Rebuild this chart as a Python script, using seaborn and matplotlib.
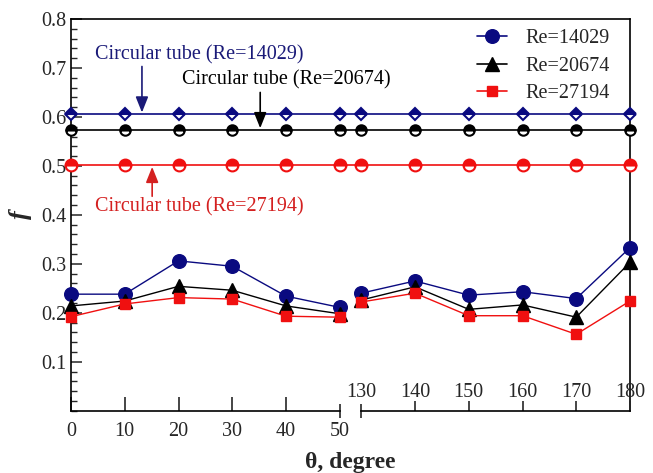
import matplotlib
matplotlib.use("Agg")
import matplotlib.pyplot as plt
import numpy as np
import pandas as pd
import seaborn as sns
from matplotlib.lines import Line2D
from matplotlib.ticker import MultipleLocator, FixedLocator

# Friction factor versus twist angle
theta = [0, 10, 20, 30, 40, 50, 130, 140, 150, 160, 170, 180]
f_14029 = [0.238, 0.238, 0.306, 0.295, 0.234, 0.211, 0.240, 0.265, 0.236, 0.243, 0.229, 0.333]
f_20674 = [0.214, 0.224, 0.254, 0.246, 0.214, 0.198, 0.226, 0.253, 0.207, 0.216, 0.191, 0.303]
f_27194 = [0.192, 0.218, 0.231, 0.228, 0.193, 0.191, 0.222, 0.240, 0.194, 0.194, 0.156, 0.224]

# Circular (plain) tube reference values
re_labels = ["Re=14029", "Re=20674", "Re=27194"]
f_circular = [0.606, 0.574, 0.501]
tube_labels = ["Circular tube (Re=14029)", "Circular tube (Re=20674)", "Circular tube (Re=27194)"]

left_ticks = [0, 10, 20, 30, 40, 50]
right_ticks = [130, 140, 150, 160, 170, 180]

# broken x axis: 50..130 is squeezed into a small gap
BREAK_LO, BREAK_HI, GAP = 50, 130, 4
SHIFT = BREAK_HI - BREAK_LO - GAP


def to_axis(t):
    t = np.asarray(t, dtype=float)
    return np.where(t <= BREAK_LO, t, t - SHIFT)


sns.set_style("ticks")
plt.rcParams["font.family"] = ["Liberation Serif", "DejaVu Serif"]
plt.rcParams["axes.linewidth"] = 1.2
plt.rcParams["axes.edgecolor"] = "black"

colors = ["#0a0a80", "#000000", "#f01010"]
text_colors = ["#1a1a78", "#000000", "#d42020"]
markers = ["o", "^", "s"]
msizes = [9.8, 10, 7.5]
ref_markers = ["D", "o", "o"]
ref_msizes = [6.5, 7.5, 8.5]

df = pd.DataFrame({
    "theta": theta * 3,
    "f": f_14029 + f_20674 + f_27194,
    "Re": [r for r in re_labels for _ in theta],
})
df["pos"] = to_axis(df["theta"])
df["seg"] = np.where(df["theta"] <= BREAK_LO, "low", "high")

fig, ax = plt.subplots(figsize=(6.53, 4.73), dpi=100)
fig.subplots_adjust(left=71 / 653, right=630 / 653, bottom=1 - 410.7 / 473, top=1 - 19 / 473)

XMAX = float(to_axis(180))
ax.set_xlim(0, XMAX)
ax.set_ylim(0, 0.8)

# circular tube lines with half-filled markers
pos_all = to_axis(theta)
for val, col, mk, ms in zip(f_circular, colors, ref_markers, ref_msizes):
    ax.axhline(val, color=col, lw=1.2, zorder=2)
    ax.plot(pos_all, [val] * len(pos_all), linestyle="none", marker=mk, ms=ms,
            color=col, markeredgecolor=col, markeredgewidth=1.5, fillstyle="top",
            markerfacecoloralt="white", clip_on=False, zorder=3)

# measured data, drawn as separate segments on both sides of the break
for lab, col, mk, ms in zip(re_labels, colors, markers, msizes):
    sub = df[df["Re"] == lab]
    sns.lineplot(data=sub, x="pos", y="f", units="seg", estimator=None, sort=False,
                 color=col, marker=mk, markersize=ms, markeredgecolor=col,
                 markeredgewidth=1.0, linewidth=1.0, legend=False, ax=ax,
                 clip_on=False, zorder=4)

ax.set_xlabel("")
ax.set_ylabel("f", fontsize=19, fontstyle="italic", fontweight="bold", labelpad=7)
fig.text(350 / 653, 1 - 462 / 473, "θ, degree", fontsize=17, fontweight="bold",
         ha="center", va="center")

# y axis
ax.yaxis.set_major_locator(FixedLocator([0.1, 0.2, 0.3, 0.4, 0.5, 0.6, 0.7, 0.8]))
ax.yaxis.set_minor_locator(MultipleLocator(0.02))
ax.yaxis.set_major_formatter(matplotlib.ticker.FormatStrFormatter("%.1f"))
ax.tick_params(axis="y", which="major", direction="in", length=7.7, width=1.1,
               labelsize=14.5, pad=3, right=False)
ax.tick_params(axis="y", which="minor", direction="in", length=4.4, width=1.0, right=False)

# lower x axis (left part)
ax.spines["bottom"].set_bounds(0, BREAK_LO)
ax.set_xticks(to_axis(left_ticks[:-1]))
ax.set_xticklabels([str(t) for t in left_ticks[:-1]])
ax.set_xticks(to_axis([left_ticks[-1]]), minor=True)
ax.set_xticklabels([str(left_ticks[-1])], minor=True)
ax.tick_params(axis="x", which="major", direction="in", length=10, width=1.2,
               labelsize=14.5, pad=8, top=False)
ax.tick_params(axis="x", which="minor", direction="inout", length=9.5, width=1.2,
               labelsize=14.5, pad=8 - 4.75, top=False)

# right part of the broken x axis, labels above the axis line
ax2 = ax.twiny()
ax2.set_xlim(0, XMAX)
ax2.patch.set_visible(False)
for s in ["left", "right", "bottom"]:
    ax2.spines[s].set_visible(False)
ax2.spines["top"].set_position(("axes", 0.0))
ax2.spines["top"].set_bounds(float(to_axis(right_ticks[0])), XMAX)
ax2.set_xticks(to_axis(right_ticks[1:]))
ax2.set_xticklabels([str(t) for t in right_ticks[1:]])
ax2.set_xticks(to_axis([right_ticks[0]]), minor=True)
ax2.set_xticklabels([str(right_ticks[0])], minor=True)
RP = -1.0
ax2.tick_params(axis="x", which="major", direction="out", length=7.5, width=1.2,
                labelsize=14.5, pad=RP, top=True, bottom=False, labeltop=True, labelbottom=False)
ax2.tick_params(axis="x", which="minor", direction="inout", length=9.5, width=1.2,
                labelsize=14.5, pad=RP + 7.5 - 4.75, top=True, bottom=False,
                labeltop=True, labelbottom=False)

# annotations for the circular tube lines
ann = [
    (23.9, 0.726, 13.2, 0.703, 0.609),
    (40.0, 0.675, 35.2, 0.650, 0.577),
    (23.9, 0.416, 15.1, 0.438, 0.498),
]
for (tx, ty, axx, a0, a1), lab, col in zip(ann, tube_labels, text_colors):
    ax.text(tx, ty, lab, color=col, fontsize=14.5, ha="center", va="center", zorder=5)
    ax.annotate("", xy=(axx, a1), xytext=(axx, a0),
                arrowprops=dict(arrowstyle="-|>,head_length=0.5,head_width=0.2",
                                color=col, lw=1.2, mutation_scale=19,
                                shrinkA=0, shrinkB=0), zorder=5)

handles = [Line2D([], [], color=c, marker=m, ms=s, markeredgecolor=c, lw=1.2)
           for c, m, s in zip(colors, markers, msizes)]
ax.legend(handles, re_labels, loc="upper right", bbox_to_anchor=(0.985, 1.005),
          frameon=False, fontsize=14.5, handlelength=1.5, handletextpad=0.9,
          labelspacing=0.42, borderaxespad=0.2)

fig.savefig("out.png", dpi=100)
